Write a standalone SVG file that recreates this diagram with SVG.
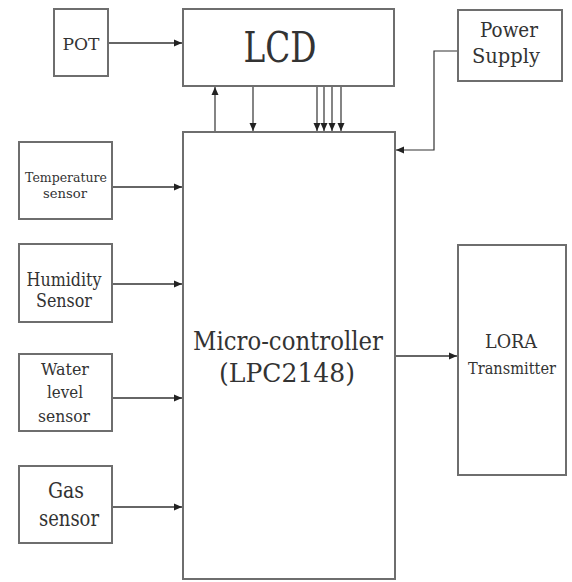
<svg xmlns="http://www.w3.org/2000/svg" width="572" height="582" viewBox="0 0 572 582">
<defs>
<style>
.box{fill:#fff;stroke:#6e6e6e;stroke-width:2}
.t{font-family:"DejaVu Serif","Liberation Serif","Times New Roman",serif;fill:#333;text-anchor:middle}
.c{fill:none;stroke:#333;stroke-width:1.5}
.c2{fill:none;stroke:#333;stroke-width:1.2}
</style>
<marker id="ah" markerUnits="userSpaceOnUse" markerWidth="9" markerHeight="8" refX="8" refY="4" orient="auto">
<path d="M0,0.5 L8,4 L0,7.5 Z" fill="#222"/>
</marker>
</defs>
<rect width="572" height="582" fill="#fff"/>
<g id="connectors">
<path class="c" d="M108,43 H182" marker-end="url(#ah)"/>
<path class="c2" d="M215,132 V87" marker-end="url(#ah)"/>
<path class="c2" d="M253,87 V131" marker-end="url(#ah)"/>
<path class="c2" d="M317,87 V131" marker-end="url(#ah)"/>
<path class="c2" d="M324,87 V131" marker-end="url(#ah)"/>
<path class="c2" d="M332,87 V131" marker-end="url(#ah)"/>
<path class="c2" d="M341,87 V131" marker-end="url(#ah)"/>
<path class="c2" d="M458,51 H434 V150 H396" marker-end="url(#ah)"/>
<path class="c" d="M112,187 H182" marker-end="url(#ah)"/>
<path class="c" d="M112,284 H182" marker-end="url(#ah)"/>
<path class="c" d="M112,398 H182" marker-end="url(#ah)"/>
<path class="c" d="M112,507 H182" marker-end="url(#ah)"/>
<path class="c" d="M395,356 H457" marker-end="url(#ah)"/>
</g>
<g id="pot">
<rect class="box" x="54" y="9" width="54" height="67"/>
<text class="t" x="81" y="50" font-size="16" textLength="37" lengthAdjust="spacingAndGlyphs">POT</text>
</g>
<g id="lcd">
<rect class="box" x="183" y="9" width="211" height="77"/>
<text class="t" x="280" y="62" font-size="42" textLength="73" lengthAdjust="spacingAndGlyphs">LCD</text>
</g>
<g id="power">
<rect class="box" x="458" y="10" width="104" height="71"/>
<text class="t" x="509" y="37" font-size="21" textLength="58" lengthAdjust="spacingAndGlyphs">Power</text>
<text class="t" x="506" y="63" font-size="21" textLength="68" lengthAdjust="spacingAndGlyphs">Supply</text>
</g>
<g id="micro">
<rect class="box" x="183" y="132" width="212" height="447"/>
<text class="t" x="288" y="350" font-size="26" textLength="190" lengthAdjust="spacingAndGlyphs">Micro-controller</text>
<text class="t" x="287" y="382" font-size="26" textLength="136" lengthAdjust="spacingAndGlyphs">(LPC2148)</text>
</g>
<g id="temp">
<rect class="box" x="19" y="142" width="93" height="77"/>
<text class="t" x="66" y="182" font-size="12" textLength="82" lengthAdjust="spacingAndGlyphs">Temperature</text>
<text class="t" x="65" y="198" font-size="12" textLength="44" lengthAdjust="spacingAndGlyphs">sensor</text>
</g>
<g id="humidity">
<rect class="box" x="19" y="244" width="93" height="78"/>
<text class="t" x="64" y="286" font-size="19" textLength="75" lengthAdjust="spacingAndGlyphs">Humidity</text>
<text class="t" x="64" y="307" font-size="19" textLength="56" lengthAdjust="spacingAndGlyphs">Sensor</text>
</g>
<g id="water">
<rect class="box" x="19" y="354" width="93" height="77"/>
<text class="t" x="65" y="375" font-size="17" textLength="48" lengthAdjust="spacingAndGlyphs">Water</text>
<text class="t" x="65" y="398" font-size="17" textLength="36" lengthAdjust="spacingAndGlyphs">level</text>
<text class="t" x="64" y="422" font-size="17" textLength="52" lengthAdjust="spacingAndGlyphs">sensor</text>
</g>
<g id="gas">
<rect class="box" x="19" y="466" width="93" height="77"/>
<text class="t" x="66" y="498" font-size="22" textLength="36" lengthAdjust="spacingAndGlyphs">Gas</text>
<text class="t" x="69" y="526" font-size="22" textLength="60" lengthAdjust="spacingAndGlyphs">sensor</text>
</g>
<g id="lora">
<rect class="box" x="458" y="245" width="108" height="230"/>
<text class="t" x="511" y="348" font-size="18" textLength="52" lengthAdjust="spacingAndGlyphs">LORA</text>
<text class="t" x="512" y="374" font-size="17" textLength="88" lengthAdjust="spacingAndGlyphs">Transmitter</text>
</g>
</svg>
